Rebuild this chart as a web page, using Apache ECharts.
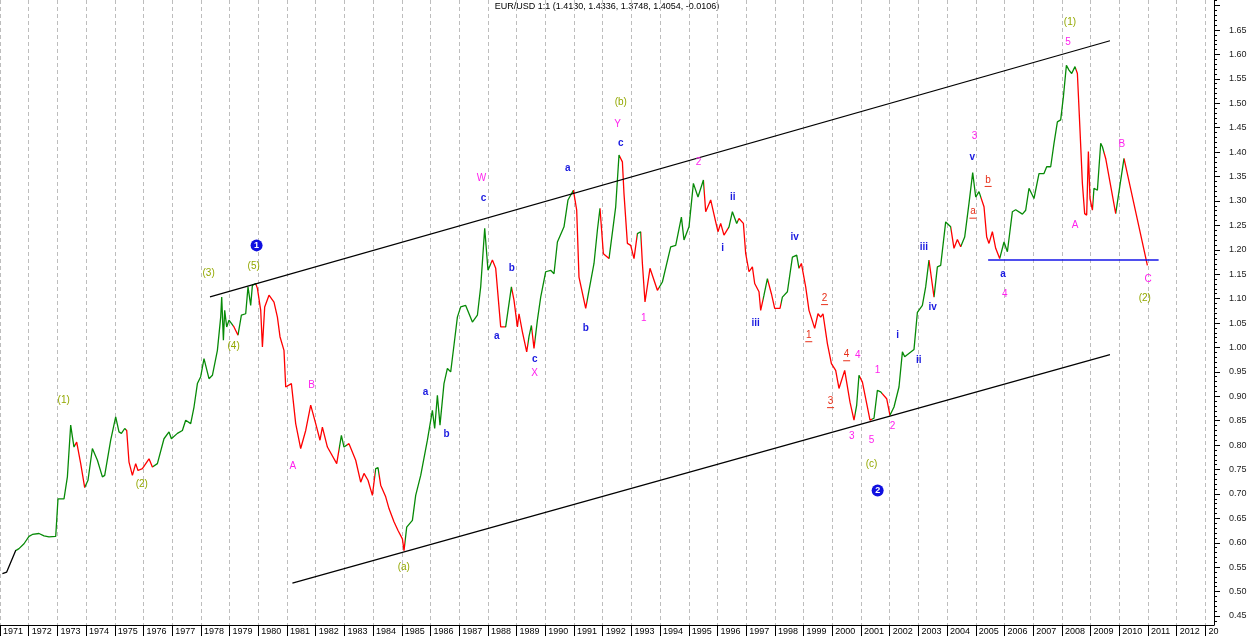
<!DOCTYPE html>
<html><head><meta charset="utf-8">
<script src="https://cdn.jsdelivr.net/npm/echarts@6/dist/echarts.min.js"></script>
<style>html,body{margin:0;padding:0;background:#fff}#c{width:1250px;height:636px}</style>
</head><body><div id="c"></div>
<script>
// ---- EUR/USD (synthetic pre-1999) monthly-ish closes ----
const dates = [
1971.084,1971.233,1971.547,1971.662,1971.836,1972.010,1972.129,1972.359,1972.533,1972.707,1972.941,
1973.021,1973.230,1973.348,1973.463,1973.523,1973.578,1973.672,1973.812,1973.951,1974.066,1974.219,
1974.394,1974.568,1974.648,1974.857,1975.031,1975.146,1975.230,1975.345,1975.415,1975.495,1975.613,
1975.728,1975.808,1975.962,1976.192,1976.310,1976.484,1976.714,1976.889,1976.972,1977.181,1977.355,
1977.470,1977.645,1977.760,1977.878,1977.993,1978.108,1978.282,1978.401,1978.575,1978.690,1978.725,
1978.784,1978.829,1978.899,1978.979,1979.153,1979.293,1979.411,1979.561,1979.641,1979.735,1979.794,
1979.909,1979.969,1980.084,1980.143,1980.223,1980.373,1980.547,1980.666,1980.756,1980.895,1980.955,
1981.153,1981.303,1981.477,1981.652,1981.826,1982.000,1982.150,1982.233,1982.408,1982.732,1982.895,
1982.986,1983.160,1983.394,1983.568,1983.683,1983.822,1983.976,1984.091,1984.171,1984.265,1984.439,
1984.554,1984.728,1984.868,1985.021,1985.077,1985.171,1985.369,1985.484,1985.659,1985.892,1986.066,
1986.146,1986.240,1986.331,1986.470,1986.589,1986.704,1986.819,1986.937,1987.052,1987.226,1987.460,
1987.634,1987.749,1987.889,1988.003,1988.157,1988.272,1988.446,1988.620,1988.819,1988.909,1989.028,
1989.084,1989.202,1989.352,1989.432,1989.516,1989.606,1989.725,1989.840,1990.014,1990.188,1990.303,
1990.422,1990.652,1990.791,1990.979,1991.094,1991.174,1991.408,1991.523,1991.697,1991.815,1991.906,
1992.024,1992.220,1992.453,1992.568,1992.686,1992.742,1992.861,1992.976,1993.091,1993.209,1993.324,
1993.383,1993.474,1993.648,1993.906,1994.080,1994.369,1994.544,1994.742,1994.833,1995.007,1995.160,
1995.321,1995.509,1995.589,1995.763,1995.937,1996.017,1996.111,1996.226,1996.401,1996.519,1996.669,
1996.749,1996.902,1996.983,1997.098,1997.216,1997.296,1997.446,1997.505,1997.620,1997.739,1997.878,
1997.993,1998.178,1998.261,1998.436,1998.610,1998.760,1998.840,1998.923,1999.073,1999.188,1999.387,
1999.502,1999.596,1999.676,1999.829,1999.969,2000.118,2000.233,2000.432,2000.617,2000.756,2000.850,
2000.930,2001.049,2001.199,2001.314,2001.453,2001.571,2001.686,2001.895,2002.010,2002.150,2002.324,
2002.443,2002.523,2002.847,2002.965,2003.139,2003.254,2003.369,2003.544,2003.603,2003.662,2003.777,
2003.951,2004.125,2004.240,2004.359,2004.474,2004.613,2004.763,2004.892,2004.997,2005.111,2005.286,
2005.380,2005.460,2005.578,2005.693,2005.833,2005.983,2006.101,2006.275,2006.390,2006.624,2006.739,
2006.854,2007.028,2007.202,2007.376,2007.470,2007.610,2007.725,2007.843,2007.958,2008.052,2008.157,
2008.247,2008.341,2008.456,2008.540,2008.631,2008.714,2008.794,2008.864,2008.923,2008.979,2009.063,
2009.118,2009.237,2009.352,2009.411,2009.526,2009.875,2010.164,2010.979
];
const rates = [
0.537,0.540,0.584,0.588,0.598,0.613,0.617,0.619,0.614,0.612,0.613,
0.690,0.690,0.735,0.841,0.817,0.796,0.806,0.762,0.713,0.728,0.793,
0.769,0.735,0.738,0.810,0.858,0.827,0.824,0.834,0.830,0.765,0.738,
0.762,0.748,0.752,0.772,0.755,0.762,0.813,0.827,0.813,0.824,0.830,
0.851,0.844,0.878,0.926,0.940,0.977,0.936,0.943,0.994,1.062,1.103,
1.015,1.076,1.042,1.056,1.042,1.025,1.066,1.069,1.124,1.086,1.127,
1.131,1.121,1.076,1.001,1.083,1.107,1.093,1.062,1.022,0.994,0.919,
0.926,0.844,0.793,0.830,0.882,0.844,0.810,0.837,0.796,0.762,0.820,
0.796,0.803,0.769,0.724,0.742,0.728,0.697,0.752,0.754,0.718,0.694,
0.670,0.643,0.625,0.608,0.584,0.632,0.646,0.697,0.738,0.810,0.871,
0.834,0.902,0.841,0.926,0.957,0.950,1.005,1.062,1.083,1.086,1.052,
1.066,1.124,1.244,1.158,1.179,1.162,1.042,1.042,1.124,1.097,1.042,
1.069,1.032,0.991,1.022,1.045,0.998,1.056,1.103,1.155,1.158,1.151,
1.216,1.247,1.302,1.322,1.281,1.144,1.080,1.117,1.172,1.240,1.285,
1.192,1.182,1.288,1.394,1.380,1.315,1.213,1.209,1.182,1.233,1.237,
1.172,1.093,1.162,1.117,1.134,1.206,1.209,1.267,1.220,1.247,1.336,
1.308,1.343,1.278,1.302,1.257,1.237,1.254,1.230,1.247,1.278,1.254,
1.264,1.254,1.192,1.155,1.165,1.131,1.114,1.076,1.107,1.141,1.110,
1.080,1.080,1.103,1.114,1.185,1.189,1.162,1.172,1.124,1.076,1.039,
1.069,1.062,1.069,1.008,0.967,0.953,0.916,0.953,0.888,0.851,0.882,
0.943,0.929,0.885,0.851,0.855,0.912,0.909,0.895,0.861,0.878,0.919,
0.991,0.981,0.996,1.072,1.086,1.124,1.179,1.103,1.103,1.165,1.168,
1.257,1.247,1.203,1.221,1.206,1.226,1.295,1.358,1.308,1.319,1.288,
1.226,1.213,1.237,1.203,1.182,1.216,1.196,1.278,1.282,1.273,1.281,
1.326,1.305,1.356,1.356,1.370,1.370,1.418,1.462,1.466,1.513,1.578,
1.568,1.561,1.575,1.561,1.445,1.336,1.274,1.271,1.401,1.305,1.281,
1.326,1.322,1.418,1.411,1.387,1.274,1.387,1.168
];
// swing direction segments (start date, direction)
const trendStarts = [1971.0,1971.55,1973.60,1973.95,1975.40,1976.33,1979.12,1979.30,1979.93,1982.80,1983.10,1984.05,1984.20,
1985.10,1988.10,1988.60,1988.85,1989.38,1989.55,1989.65,1990.98,1991.45,1991.92,1992.22,1992.60,1993.20,1993.34,1993.95,
1995.52,1996.38,1996.70,1997.58,1997.76,1998.22,1998.85,2000.80,2000.95,2001.38,2001.72,2002.02,2003.38,2003.56,2004.13,
2004.50,2005.18,2005.85,2008.50,2009.08,2009.45,2009.88,2010.17];
const trendDirs = ['flat','up','down','up','down','up','down','up','down','up','down','up','down',
'up','down','up','down','up','down','up','down','up','down','up','down','up','down','up',
'down','up','down','up','down','up','down','up','down','up','down','up','down','up','down',
'up','down','up','down','up','down','up','down'];

// channel & support lines [date, rate]
const upperChannel = [[1978.317,1.1035],[2009.676,1.628]];
const lowerChannel = [[1981.188,0.5174],[2009.676,0.9854]];
const supportLine = [[2005.43,1.179],[2011.37,1.179]];

// wave annotations
const annText = ['(1)','(2)','(3)','(4)','(5)','1','A','B','(a)','a','b','W','c','a','b','c','X','a','b','(b)','Y','c',
'1','2','ii','i','iii','iv','2','1','4','4','3','1','3','5','2','(c)','2','i','ii','iii','iv',
'3','v','b','a','a','4','(1)','5','A','B','C','(2)'];
const annT = [1973.22,1975.94,1978.27,1979.14,1979.84,1979.94,1981.20,1981.86,1985.07,1985.83,1986.56,1987.78,1987.85,1988.31,1988.83,1989.63,1989.63,1990.78,1991.41,1992.63,1992.52,1992.63,
1993.43,1995.34,1996.53,1996.18,1997.33,1998.69,1999.73,1999.18,2000.50,2000.89,1999.94,2001.58,2000.68,2001.37,2002.10,2001.37,2001.58,2002.28,2003.01,2003.19,2003.50,
2004.96,2004.88,2005.43,2004.90,2005.95,2006.01,2008.28,2008.21,2008.46,2010.09,2011.00,2010.89];
const annV = [0.892,0.720,1.152,1.002,1.166,1.209,0.757,0.923,0.550,0.908,0.822,1.347,1.306,1.023,1.162,0.976,0.947,1.367,1.039,1.502,1.457,1.418,
1.060,1.380,1.308,1.203,1.050,1.226,1.099,1.023,0.984,0.984,0.888,0.953,0.818,0.810,0.839,0.761,0.707,1.025,0.974,1.205,1.082,
1.433,1.390,1.341,1.276,1.150,1.108,1.665,1.626,1.250,1.416,1.139,1.100];
const annKind = ['wave','wave','wave','wave','wave','circle','pink','pink','wave','blue','blue','pink','blue','blue','blue','blue','pink','blue','blue','wave','pink','blue',
'pink','pink','blue','blue','blue','blue','under','under','under','pink','under','pink','pink','pink','pink','wave','circle','blue','blue','blue','blue',
'pink','blue','under','under','blue','pink','wave','pink','pink','pink','pink','wave'];

const majorTicks = [];
for (let i = 0; i <= 25; i++) majorTicks.push(+(0.45 + i * 0.05).toFixed(2));
const labelTicks = majorTicks.filter(v => v <= 1.651);
const minorTicks = [];
for (let i = 0; i <= 127; i++) minorTicks.push(+(0.44 + i * 0.01).toFixed(2));

const dirColor = {flat:'#000000', up:'#078a07', down:'#ff0000'};
const pieces = trendStarts.map((s, i) => ({gte: s, lt: i + 1 < trendStarts.length ? trendStarts[i + 1] : 2014, color: dirColor[trendDirs[i]]}));

const kindStyle = {
  wave:  {color:'#93a800', fontWeight:'normal'},
  pink:  {color:'#ff22ee', fontWeight:'normal'},
  blue:  {color:'#1a1ae0', fontWeight:'bold'},
  under: {color:'#e8301a', fontWeight:'normal'},
  circle:{color:'#fff', fontWeight:'bold'}
};
const annData = annText.map((t, i) => {
  const k = annKind[i];
  let fmt = t;
  if (k === 'circle') fmt = '{circ|' + t + '}';
  if (k === 'under') fmt = '{u|' + t + '}\n{bar|}';
  return {value: [annT[i], annV[i]], label: {formatter: fmt, color: kindStyle[k].color, fontWeight: kindStyle[k].fontWeight, opacity: 1}};
});

const FONT = '"Liberation Sans", Arial, sans-serif';
const chart = echarts.init(document.getElementById('c'), null, {renderer: 'canvas'});
chart.setOption({
  animation: false,
  backgroundColor: '#ffffff',
  grid: {left: 0, right: 36, top: 0, bottom: 11, containLabel: false},
  graphic: [{type: 'text', x: 607, y: 2, style: {text: 'EUR/USD 1:1 (1.4130, 1.4336, 1.3748, 1.4054, -0.0106)', fill: '#000', font: '9px ' + FONT, textAlign: 'center', textVerticalAlign: 'top'}}],
  visualMap: {type: 'piecewise', show: false, dimension: 0, seriesIndex: 0, pieces: pieces},
  xAxis: {
    type: 'value', min: 1971, max: 2013.3, interval: 1,
    axisLine: {show: true, lineStyle: {color: '#000', width: 1}},
    axisTick: {show: true, length: 11, lineStyle: {color: '#000'}},
    axisLabel: {show: true, margin: 2, align: 'left', padding: [0, 0, 0, 3], fontSize: 9, fontFamily: FONT, color: '#000',
      formatter: v => (v >= 2013 ? '20' : String(Math.round(v)))},
    splitLine: {show: true, lineStyle: {color: '#bdbdbd', type: [4, 3], width: 1}}
  },
  yAxis: [{
    type: 'value', position: 'right', min: 0.4316, max: 1.7115,
    axisLine: {show: true, onZero: false, lineStyle: {color: '#000', width: 1}},
    axisTick: {show: true, length: 6, customValues: majorTicks, lineStyle: {color: '#000'}},
    axisLabel: {show: true, margin: 15, fontSize: 9, fontFamily: FONT, color: '#222', customValues: labelTicks, formatter: v => v.toFixed(2)},
    splitLine: {show: false}
  }, {
    type: 'value', position: 'right', min: 0.4316, max: 1.7115,
    axisLine: {show: false},
    axisTick: {show: true, length: 3, customValues: minorTicks, lineStyle: {color: '#000'}},
    axisLabel: {show: false},
    splitLine: {show: false}
  }],
  series: [{
    type: 'line', data: dates.map((d, i) => [d, rates[i]]), symbol: 'none', lineStyle: {width: 1.3}, z: 3
  }, {
    type: 'line', data: upperChannel, symbol: 'none', lineStyle: {color: '#000', width: 1.2}, z: 4, silent: true
  }, {
    type: 'line', data: lowerChannel, symbol: 'none', lineStyle: {color: '#000', width: 1.2}, z: 4, silent: true
  }, {
    type: 'line', data: supportLine, symbol: 'none', lineStyle: {color: '#1515e8', width: 1.4}, z: 4, silent: true
  }, {
    type: 'scatter', data: annData, symbolSize: 1, itemStyle: {color: 'rgba(0,0,0,0)', opacity: 1}, silent: true, z: 5,
    label: {show: true, position: 'inside', fontSize: 10, fontFamily: FONT, opacity: 1,
      rich: {
        circ: {backgroundColor: '#1010e0', color: '#fff', borderRadius: 6, width: 12, height: 12, lineHeight: 12, align: 'center', fontSize: 9, fontWeight: 'bold', fontFamily: FONT},
        u: {color: '#e8301a', fontSize: 10, fontFamily: FONT, lineHeight: 11},
        bar: {width: 7, height: 1, lineHeight: 2, backgroundColor: '#e8301a'}
      }}
  }]
});
</script>
</body></html>
